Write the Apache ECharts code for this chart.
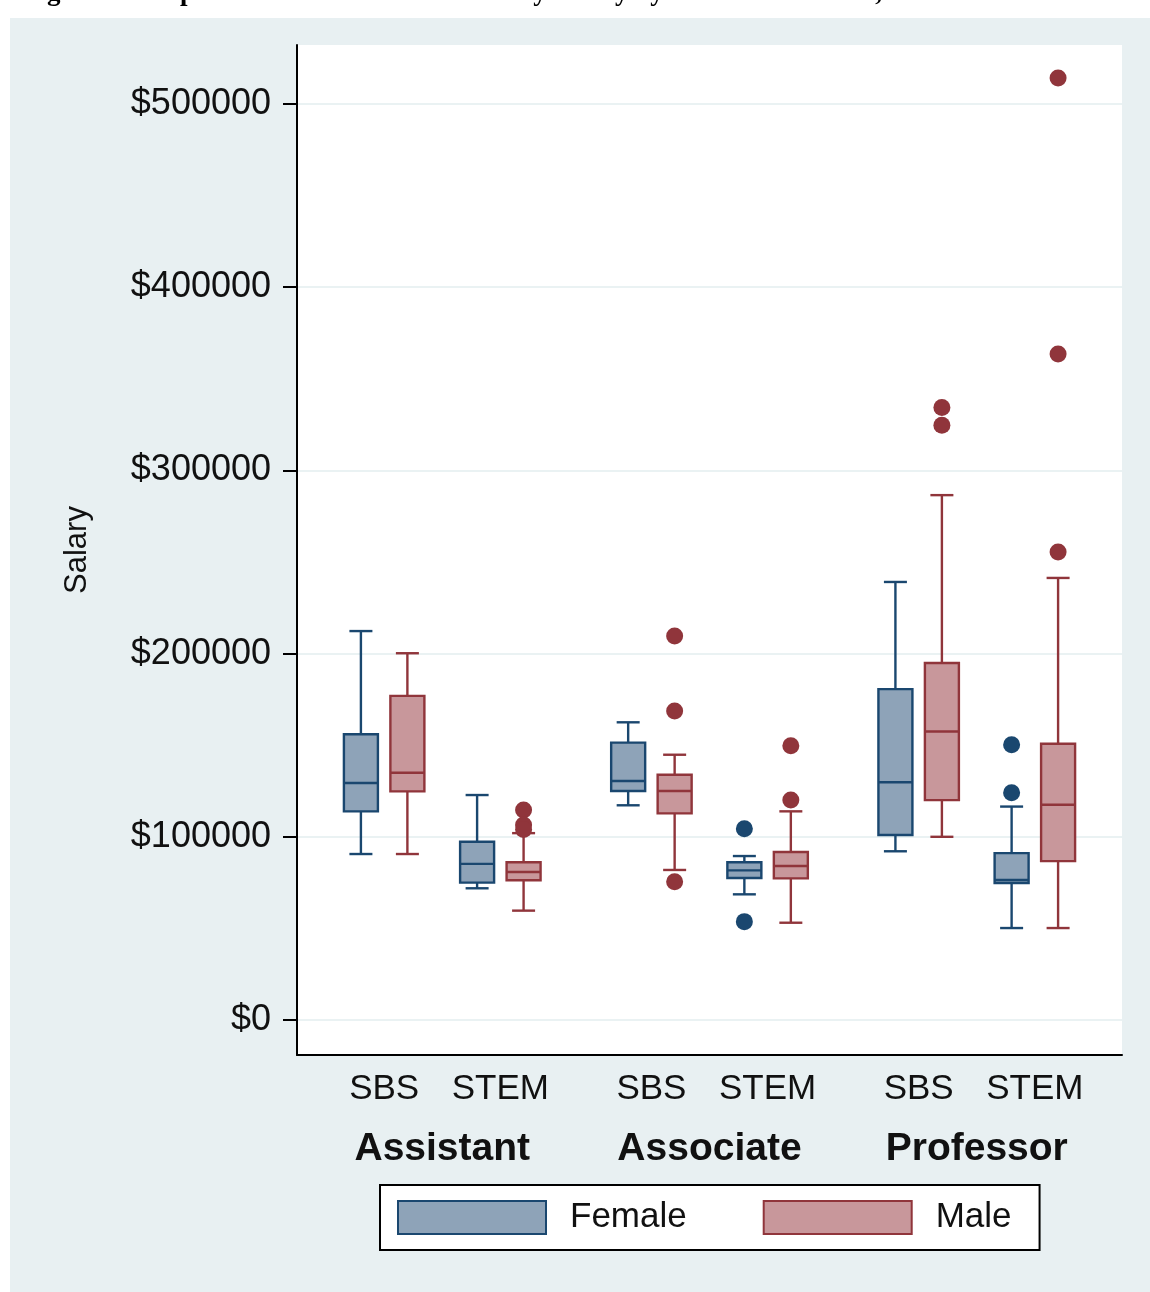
<!DOCTYPE html>
<html>
<head>
<meta charset="utf-8">
<script src="https://cdn.jsdelivr.net/npm/echarts@6/dist/echarts.min.js"></script>
<style>
    html, body { margin: 0; padding: 0; background: #fff; }
    #bg { position: absolute; left: 10px; top: 18px; width: 1140px; height: 1274px; background: #e8f0f2; }
    #chart { position: absolute; left: 0; top: 0; width: 1150px; height: 1292px; }
</style>
</head>
<body>
<div id="bg"></div>
<div id="chart"></div>
<script>
const ranks = ['Assistant', 'Associate', 'Professor']
const fields = ['SBS', 'STEM']
const yTicks = [0, 100000, 200000, 300000, 400000, 500000]

// [min, q1, median, q3, max] in order Assistant SBS, Assistant STEM, Associate SBS, ...
const femaleBoxes = [
    [90600, 113900, 129400, 156000, 212300],
    [71900, 75000, 85200, 97300, 122800],
    [117200, 125000, 130500, 151400, 162500],
    [68600, 77500, 81700, 86100, 89500],
    [92100, 101000, 129800, 180600, 239100],
    [50200, 74800, 76400, 91100, 116500],
]
const maleBoxes = [
    [90600, 124800, 135000, 176900, 200200],
    [59700, 76300, 80800, 86100, 102000],
    [81900, 112800, 125000, 133900, 144800],
    [53100, 77300, 84100, 91700, 113900],
    [100000, 120000, 157500, 194900, 286500],
    [50200, 86700, 117500, 150800, 241300],
]
const femaleOutliers = [[], [], [], [104400, 53700], [], [150200, 124000]]
const maleOutliers = [[], [114600, 106500, 104000], [209600, 168700, 75500], [149700, 120100], [334300, 324600], [514200, 363500, 255400]]

const FEMALE = { stroke: '#1a476f', fill: '#8ea3b8' }
const MALE = { stroke: '#90353b', fill: '#c8979b' }
const font = '"Liberation Sans", Arial, sans-serif'

// slot layout on the category axis
const SLOTS = 71
const rankStart = [5, 28, 51]
const fieldStep = 10
const maleStep = 4
const slotOf = (g, male) => rankStart[Math.floor(g / 2)] + (g % 2) * fieldStep + (male ? maleStep : 0)

const slotIds = Array.from({ length: SLOTS }, (_, i) => 's' + i)
const fieldLabels = new Array(SLOTS).fill('')
const rankLabels = new Array(SLOTS).fill('')
ranks.forEach((r, i) => {
    fields.forEach((f, j) => { fieldLabels[rankStart[i] + j * fieldStep + maleStep / 2] = f })
    rankLabels[rankStart[i] + 7] = r
})

const boxRenderer = ({ stroke, fill }) => (params, api) => {
    const x = api.value(0)
    const [cx, yLo] = api.coord([x, api.value(1)])
    const yQ1 = api.coord([x, api.value(2)])[1]
    const yMed = api.coord([x, api.value(3)])[1]
    const yQ3 = api.coord([x, api.value(4)])[1]
    const yHi = api.coord([x, api.value(5)])[1]
    const hw = 17, cw = 11.5
    const line = (x1, y1, x2, y2) => ({ type: 'line', shape: { x1, y1, x2, y2 }, style: { stroke, lineWidth: 2.4 } })
    return {
        type: 'group',
        children: [
            line(cx, yHi, cx, yQ3),
            line(cx, yQ1, cx, yLo),
            line(cx - cw, yHi, cx + cw, yHi),
            line(cx - cw, yLo, cx + cw, yLo),
            { type: 'rect', shape: { x: cx - hw, y: yQ3, width: hw * 2, height: yQ1 - yQ3 }, style: { fill, stroke, lineWidth: 2.4 } },
            line(cx - hw, yMed, cx + hw, yMed),
        ],
    }
}

const boxSeries = (name, boxes, male, colors) => ({
    name,
    type: 'custom',
    renderItem: boxRenderer(colors),
    itemStyle: { color: colors.fill, borderColor: colors.stroke, borderWidth: 2 },
    encode: { x: 0, y: [1, 2, 3, 4, 5] },
    data: boxes.map((b, g) => [slotOf(g, male), ...b]),
})

const outlierSeries = (name, outliers, male, colors) => ({
    name,
    type: 'scatter',
    symbol: 'circle',
    symbolSize: 17,
    itemStyle: { color: colors.stroke, opacity: 1 },
    data: outliers.flatMap((vals, g) => vals.map((v) => [slotOf(g, male), v])),
})

const chart = echarts.init(document.getElementById('chart'))
chart.setOption({
    animation: false,
    title: {
        text: 'Figure 1: Boxplots of SBS and STEM Faculty Salary by Rank and Gender, Tenured',
        left: 18,
        top: -25,
        textStyle: { fontFamily: '"Liberation Serif", serif', fontWeight: 'bold', fontSize: 27, color: '#000' },
    },
    grid: { left: 297, right: 28, top: 45, bottom: 237, show: true, backgroundColor: '#fff', borderWidth: 0 },
    xAxis: [
        {
            type: 'category',
            data: slotIds,
            position: 'bottom',
            boundaryGap: true,
            axisLine: { onZero: false, lineStyle: { color: '#000', width: 2 } },
            axisTick: { show: false },
            splitLine: { show: false },
            axisLabel: { interval: 0, margin: 17, fontSize: 35, color: '#111', fontFamily: font, formatter: (v, i) => fieldLabels[i] },
        },
        {
            type: 'category',
            data: slotIds,
            position: 'bottom',
            boundaryGap: true,
            axisLine: { show: false, onZero: false },
            axisTick: { show: false },
            splitLine: { show: false },
            axisLabel: { interval: 0, margin: 75, fontSize: 39, fontWeight: 'bold', color: '#111', fontFamily: font, formatter: (v, i) => rankLabels[i] },
        },
    ],
    yAxis: {
        type: 'value',
        min: -19100,
        max: 532200,
        name: 'Salary',
        nameLocation: 'middle',
        nameGap: 204,
        nameTextStyle: { fontSize: 31, color: '#111', fontFamily: font },
        axisLine: { show: true, lineStyle: { color: '#000', width: 2 } },
        axisTick: { show: true, length: 14, customValues: yTicks, lineStyle: { color: '#000', width: 2 } },
        axisLabel: { customValues: yTicks, margin: 26, fontSize: 36, color: '#111', fontFamily: font, formatter: (v) => '$' + v },
        splitLine: { show: true, lineStyle: { color: '#eaf2f3', width: 2 } },
    },
    legend: {
        left: 380,
        top: 1185,
        padding: [15, 28, 15, 17],
        itemGap: 76,
        itemWidth: 148,
        itemHeight: 33,
        borderColor: '#000',
        borderWidth: 2,
        backgroundColor: '#fff',
        textStyle: { fontSize: 35, color: '#111', fontFamily: font, padding: [0, 0, 0, 19] },
        data: [
            { name: 'Female', icon: 'rect', itemStyle: { color: FEMALE.fill, borderColor: FEMALE.stroke, borderWidth: 2 } },
            { name: 'Male', icon: 'rect', itemStyle: { color: MALE.fill, borderColor: MALE.stroke, borderWidth: 2 } },
        ],
    },
    series: [
        boxSeries('Female', femaleBoxes, false, FEMALE),
        boxSeries('Male', maleBoxes, true, MALE),
        outlierSeries('Female outliers', femaleOutliers, false, FEMALE),
        outlierSeries('Male outliers', maleOutliers, true, MALE),
    ],
})
</script>
</body>
</html>
